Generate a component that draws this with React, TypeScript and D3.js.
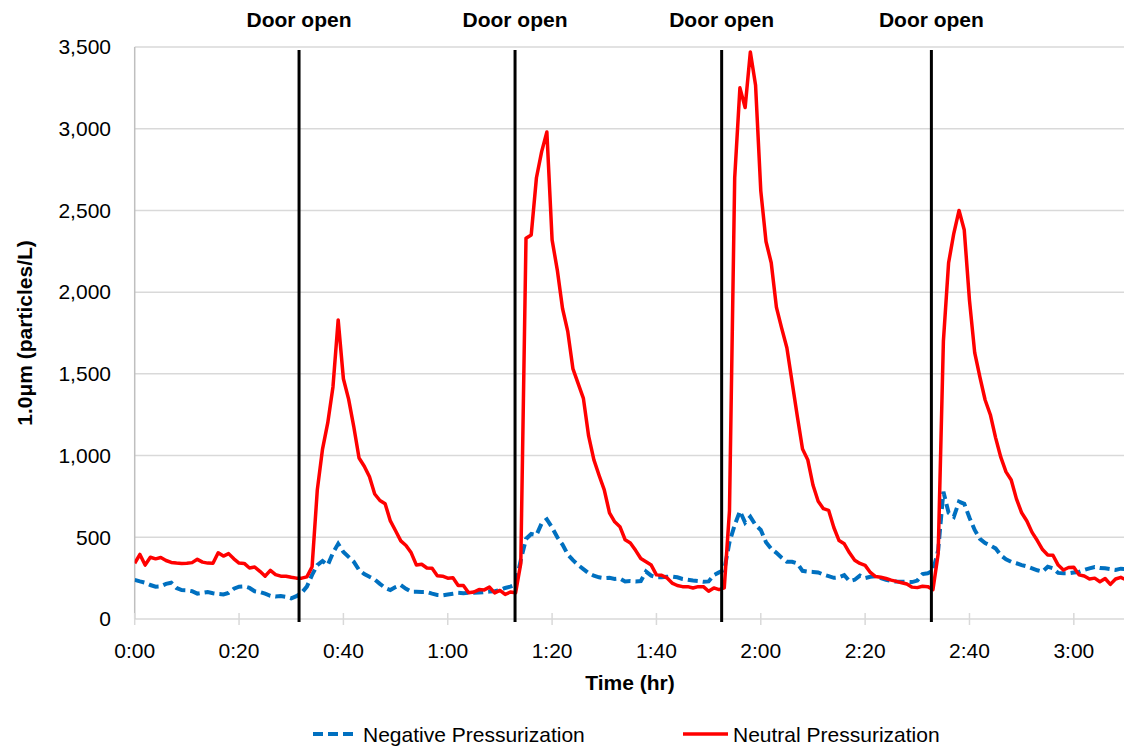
import React from 'react'
import * as d3 from 'd3'

// one reading per minute, 0:00 .. 3:10
const neutralValues = [
  341, 395, 330, 378, 368, 376, 358, 346, 342, 340,
  341, 345, 365, 348, 342, 341, 405, 385, 400, 368,
  342, 340, 312, 318, 292, 262, 298, 272, 262, 262,
  255, 250, 250, 258, 320, 790, 1040, 1200, 1420, 1830,
  1470, 1345, 1175, 985, 935, 870, 765, 725, 705, 600,
  540, 478, 450, 405, 330, 335, 312, 310, 265, 262,
  250, 252, 205, 205, 160, 165, 180, 178, 195, 160,
  175, 150, 165, 160, 340, 2330, 2350, 2700, 2860, 2980,
  2320, 2135, 1900, 1760, 1530, 1440, 1350, 1120, 975, 880,
  790, 650, 595, 565, 485, 465, 420, 370, 350, 330,
  270, 268, 252, 220, 205, 198, 198, 190, 198, 198,
  170, 190, 180, 190, 662, 2700, 3250, 3130, 3470, 3266,
  2620, 2310, 2180, 1907, 1780, 1660, 1450, 1240, 1040, 975,
  820, 720, 675, 665, 560, 480, 460, 405, 360, 340,
  328, 285, 260, 255, 248, 238, 230, 222, 214, 195,
  192, 200, 198, 180, 400, 1700, 2180, 2360, 2500, 2380,
  1950, 1630, 1480, 1340, 1250, 1110, 990, 900, 851, 735,
  650, 600, 530, 480, 425, 392, 390, 330, 300, 315,
  316, 270, 263, 245, 250, 228, 248, 212, 245, 255,
  240,
]

const negativeValues = [
  239, 230, 222, 208, 198, 200, 215, 222, 190, 177,
  176, 170, 155, 160, 165, 158, 153, 150, 160, 185,
  198, 200, 190, 170, 165, 155, 142, 137, 140, 135,
  126, 140, 160, 198, 270, 330, 355, 330, 405, 460,
  410, 380, 350, 300, 275, 258, 242, 215, 190, 177,
  195, 208, 185, 167, 167, 165, 165, 155, 147, 145,
  150, 155, 160, 158, 160, 160, 162, 165, 168, 170,
  177, 190, 198, 210, 360, 490, 520, 514, 585, 610,
  560, 500, 455, 395, 360, 330, 305, 280, 265, 255,
  250, 252, 245, 248, 230, 232, 230, 232, 290, 265,
  255, 255, 258, 260, 255, 245, 240, 235, 232, 228,
  230, 269, 285, 300, 470, 575, 660, 590, 625, 575,
  545, 470, 430, 405, 375, 350, 350, 340, 295, 290,
  288, 285, 272, 262, 252, 255, 268, 232, 240, 265,
  250, 258, 262, 250, 240, 232, 229, 228, 228, 226,
  235, 275, 280, 295, 420, 779, 650, 626, 718, 705,
  620, 545, 490, 465, 450, 432, 390, 365, 350, 341,
  330, 322, 310, 298, 290, 320, 310, 282, 280, 280,
  285, 288, 300, 310, 318, 312, 310, 305, 300, 308,
  305,
]

const doorMinutes = [31.5, 72.9, 112.5, 152.7]
const doorLabel = 'Door open'
const xTicks = [0, 20, 40, 60, 80, 100, 120, 140, 160, 180]
const yTicks = [0, 500, 1000, 1500, 2000, 2500, 3000, 3500]
const seriesNames = ['Negative Pressurization', 'Neutral Pressurization']

const FONT = '"Liberation Sans", Arial, sans-serif'

const fmtTime = (m: number) => `${Math.floor(m / 60)}:${String(m % 60).padStart(2, '0')}`

export default function App() {
  const width = 1124
  const height = 746
  const margin = { top: 47, right: -2, bottom: 127, left: 134.7 }
  const plotBottom = height - margin.bottom
  const plotRight = width - margin.right

  const x = d3.scaleLinear().domain([0, 190]).range([margin.left, plotRight])
  const y = d3.scaleLinear().domain([0, 3500]).range([plotBottom, margin.top])

  const line = d3
    .line<number>()
    .x((_, i) => x(i))
    .y((d) => y(d))

  const fmtY = d3.format(',')

  return (
    <svg
      width={width}
      height={height}
      style={{ position: 'absolute', left: 0, top: 0, background: '#fff' }}
      fontFamily={FONT}
    >
      <defs>
        <clipPath id="plot">
          <rect x={margin.left} y={0} width={plotRight - margin.left} height={height} />
        </clipPath>
      </defs>

      {/* grid */}
      {yTicks.map((t) => (
        <line key={t} x1={margin.left} x2={plotRight} y1={y(t)} y2={y(t)} stroke="#d9d9d9" strokeWidth={1.5} />
      ))}
      {yTicks.map((t) => (
        <text key={'l' + t} x={111} y={y(t)} dy="0.35em" textAnchor="end" fontSize={21} fill="#000">
          {fmtY(t)}
        </text>
      ))}
      <line x1={margin.left} x2={margin.left} y1={margin.top} y2={plotBottom} stroke="#bfbfbf" strokeWidth={1.5} />

      {/* x axis */}
      {xTicks.map((t) => (
        <g key={t}>
          <line x1={x(t)} x2={x(t)} y1={plotBottom - 6} y2={plotBottom + 6} stroke="#d9d9d9" strokeWidth={1.5} />
          <text x={x(t)} y={plotBottom + 39} textAnchor="middle" fontSize={21} fill="#000">
            {fmtTime(t)}
          </text>
        </g>
      ))}

      {/* series */}
      <g clipPath="url(#plot)">
        <path d={line(negativeValues) || ''} fill="none" stroke="#0070c0" strokeWidth={4} strokeDasharray="10 5" />
        <path d={line(neutralValues) || ''} fill="none" stroke="#ff0000" strokeWidth={3.5} strokeLinejoin="round" />
      </g>

      {/* door markers */}
      {doorMinutes.map((m) => (
        <g key={m}>
          <line x1={x(m)} x2={x(m)} y1={margin.top + 3} y2={plotBottom + 3} stroke="#000" strokeWidth={3} />
          <text x={x(m)} y={27} textAnchor="middle" fontSize={21} fontWeight="bold" fill="#000">
            {doorLabel}
          </text>
        </g>
      ))}

      {/* axis titles */}
      <text x={630} y={690} textAnchor="middle" fontSize={21} fontWeight="bold" fill="#000">
        Time (hr)
      </text>
      <text
        transform={`translate(32, ${(margin.top + plotBottom) / 2}) rotate(-90)`}
        textAnchor="middle"
        fontSize={21}
        fontWeight="bold"
        fill="#000"
      >
        1.0μm (particles/L)
      </text>

      {/* legend */}
      <g>
        <line x1={313} x2={355} y1={734} y2={734} stroke="#0070c0" strokeWidth={4} strokeDasharray="10 5" />
        <text x={363} y={742} fontSize={21} fill="#000">{seriesNames[0]}</text>
        <line x1={683} x2={728} y1={734} y2={734} stroke="#ff0000" strokeWidth={3.5} />
        <text x={733} y={742} fontSize={21} fill="#000">{seriesNames[1]}</text>
      </g>
    </svg>
  )
}
